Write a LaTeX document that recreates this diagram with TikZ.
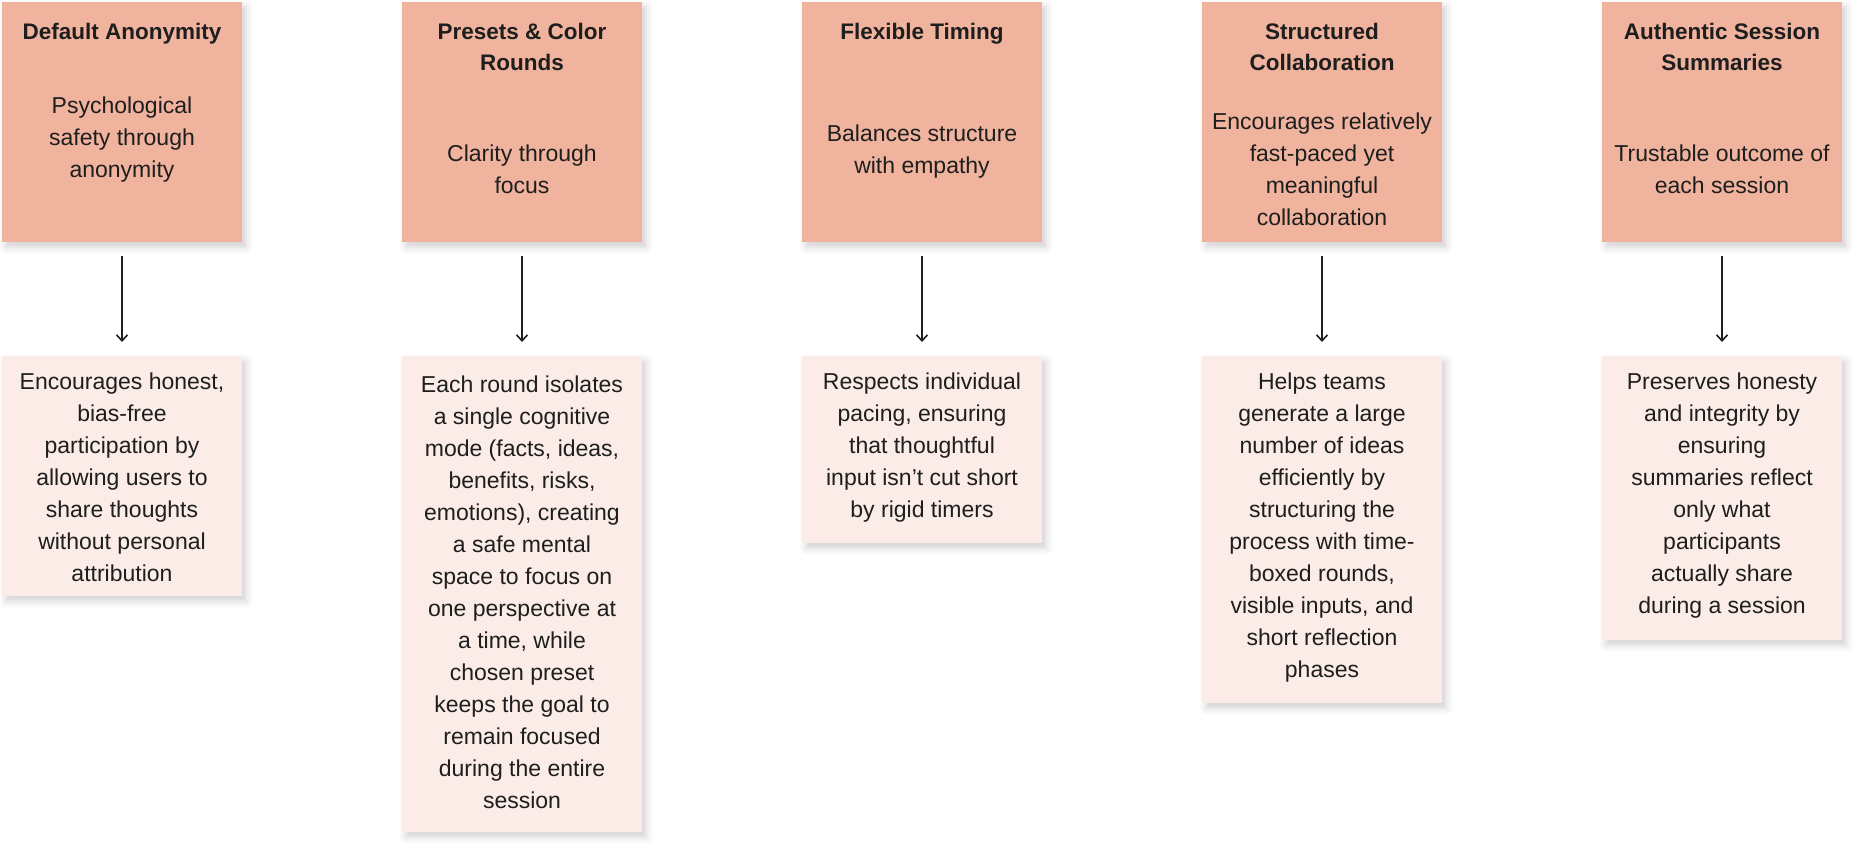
\documentclass[tikz,border=0pt]{standalone}
\usepackage{fontspec}
\setmainfont{Liberation Sans}
\usetikzlibrary{arrows.meta,shadows.blur}

\definecolor{salmon}{HTML}{F0B39E}
\definecolor{blush}{HTML}{FBECE7}
\definecolor{ink}{HTML}{1E1E1E}

\begin{document}
\begin{tikzpicture}[x=1pt,y=-1pt,>={Straight Barb[length=6pt,width=11pt]},
  card/.style={rectangle,minimum width=240pt,inner sep=0pt,
    blur shadow={shadow xshift=4pt,shadow yshift=-5pt,shadow blur radius=7pt,shadow opacity=18}},
  topcard/.style={card,fill=salmon,minimum height=240pt},
  lowcard/.style={card,fill=blush,anchor=north},
  words/.style={align=center,inner sep=0pt,text=ink,font=\fontsize{23}{32}\selectfont},
  head/.style={words,anchor=north,font=\fontsize{22.5}{31}\selectfont\bfseries},
  link/.style={->,line width=1.6pt,ink,shorten <=14pt,shorten >=14pt}]
\useasboundingbox (0,0) rectangle (1860,850);

\node[topcard] (anon) at (122,122) {};
\node[topcard] (preset) at (522,122) {};
\node[topcard] (timing) at (922,122) {};
\node[topcard] (collab) at (1322,122) {};
\node[topcard] (summary) at (1722,122) {};

\node[head] (anonhead) at (122,23) {Default Anonymity};
\node[head] (presethead) at (522,23) {Presets \& Color\\Rounds};
\node[head] (timinghead) at (922,23) {Flexible Timing};
\node[head] (collabhead) at (1322,23) {Structured\\Collaboration};
\node[head] (summaryhead) at (1722,23) {Authentic Session\\Summaries};

\node[words] (anonaim) at (122,140) {Psychological\\safety through\\anonymity};
\node[words] (presetaim) at (522,169) {Clarity through\\focus};
\node[words] (timingaim) at (922,152) {Balances structure\\with empathy};
\node[words] (collabaim) at (1322,169) {Encourages relatively\\fast-paced yet\\meaningful\\collaboration};
\node[words] (summaryaim) at (1722,169) {Trustable outcome of\\each session};

\node[lowcard,minimum height=240pt] (anongain) at (122,356) {};
\node[lowcard,minimum height=476pt] (presetgain) at (522,356) {};
\node[lowcard,minimum height=187pt] (timinggain) at (922,356) {};
\node[lowcard,minimum height=347pt] (collabgain) at (1322,356) {};
\node[lowcard,minimum height=284pt] (summarygain) at (1722,356) {};

\node[words,anchor=north] (anontext) at (122,373) {Encourages honest,\\bias-free\\participation by\\allowing users to\\share thoughts\\without personal\\attribution};
\node[words,anchor=north] (presettext) at (522,376) {Each round isolates\\a single cognitive\\mode (facts, ideas,\\benefits, risks,\\emotions), creating\\a safe mental\\space to focus on\\one perspective at\\a time, while\\chosen preset\\keeps the goal to\\remain focused\\during the entire\\session};
\node[words,anchor=north] (timingtext) at (922,373) {Respects individual\\pacing, ensuring\\that thoughtful\\input isn’t cut short\\by rigid timers};
\node[words,anchor=north] (collabtext) at (1322,373) {Helps teams\\generate a large\\number of ideas\\efficiently by\\structuring the\\process with time-\\boxed rounds,\\visible inputs, and\\short reflection\\phases};
\node[words,anchor=north] (summarytext) at (1722,373) {Preserves honesty\\and integrity by\\ensuring\\summaries reflect\\only what\\participants\\actually share\\during a session};

\draw[link] (anon) -- (anongain);
\draw[link] (preset) -- (presetgain);
\draw[link] (timing) -- (timinggain);
\draw[link] (collab) -- (collabgain);
\draw[link] (summary) -- (summarygain);
\end{tikzpicture}
\end{document}
